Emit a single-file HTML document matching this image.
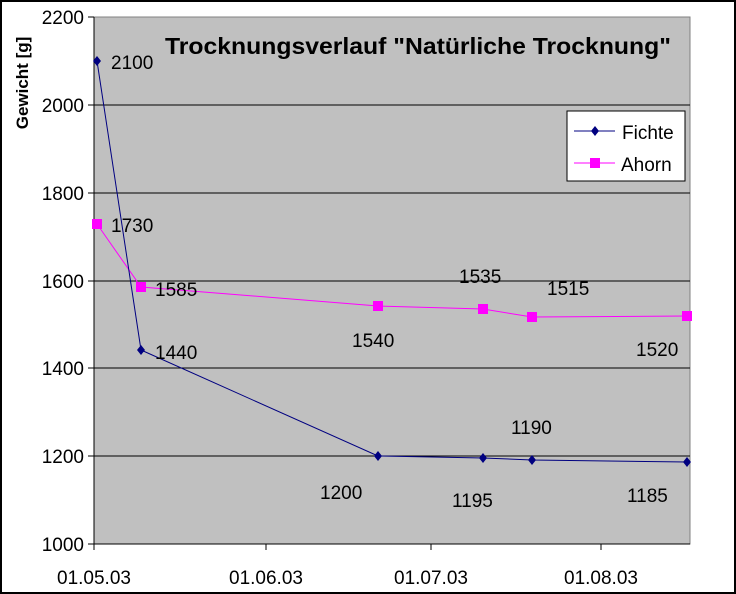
<!DOCTYPE html>
<html><head><meta charset="utf-8"><style>
body{margin:0;background:#fff}
svg{display:block;font-family:"Liberation Sans",Arial,sans-serif}
</style></head><body>
<svg width="736" height="594" viewBox="0 0 736 594">
<rect x="1" y="1" width="734" height="592" fill="#fff" stroke="#000" stroke-width="2"/>
<rect x="94" y="17" width="596" height="527" fill="#c0c0c0" stroke="#808080" stroke-width="1"/>
<g stroke="#000" stroke-width="1">
<line x1="94" y1="105" x2="690" y2="105"/>
<line x1="94" y1="193" x2="690" y2="193"/>
<line x1="94" y1="281" x2="690" y2="281"/>
<line x1="94" y1="368" x2="690" y2="368"/>
<line x1="94" y1="456" x2="690" y2="456"/>
<line x1="94" y1="17" x2="94" y2="550"/>
<line x1="94" y1="544" x2="690" y2="544"/>
<line x1="88" y1="17" x2="94" y2="17"/><line x1="88" y1="105" x2="94" y2="105"/><line x1="88" y1="193" x2="94" y2="193"/><line x1="88" y1="281" x2="94" y2="281"/><line x1="88" y1="368" x2="94" y2="368"/><line x1="88" y1="456" x2="94" y2="456"/><line x1="88" y1="544" x2="94" y2="544"/>
<line x1="266" y1="544" x2="266" y2="550"/><line x1="431" y1="544" x2="431" y2="550"/><line x1="601" y1="544" x2="601" y2="550"/>
</g>
<g font-size="19" text-anchor="end" fill="#000">
<text x="84" y="24">2200</text><text x="84" y="112">2000</text><text x="84" y="200">1800</text><text x="84" y="288">1600</text><text x="84" y="375">1400</text><text x="84" y="463">1200</text><text x="84" y="551">1000</text>
</g>
<g font-size="19" text-anchor="middle">
<text x="94" y="584">01.05.03</text><text x="266" y="584">01.06.03</text><text x="431" y="584">01.07.03</text><text x="601" y="584">01.08.03</text>
</g>
<text transform="translate(28,83) rotate(-90)" font-size="17" font-weight="bold" text-anchor="middle">Gewicht [g]</text>
<text x="418" y="54" font-size="23" font-weight="bold" text-anchor="middle" textLength="506" lengthAdjust="spacingAndGlyphs">Trocknungsverlauf "Natürliche Trocknung"</text>
<polyline points="97,224 141,287 378,306 483,309 532,317 687,316" fill="none" stroke="#ff00ff" stroke-width="1"/>
<polyline points="97,61 141,350 378,456 483,458 532,460 687,462" fill="none" stroke="#000080" stroke-width="1"/>
<g fill="#ff00ff">
<rect x="92" y="219" width="10" height="10"/><rect x="136" y="282" width="10" height="10"/><rect x="373" y="301" width="10" height="10"/><rect x="478" y="304" width="10" height="10"/><rect x="527" y="312" width="10" height="10"/><rect x="682" y="311" width="10" height="10"/>
</g>
<g fill="#000080">
<path d="M97,56l4,5l-4,5l-4,-5z"/><path d="M141,345l4,5l-4,5l-4,-5z"/><path d="M378,451l4,5l-4,5l-4,-5z"/><path d="M483,453l4,5l-4,5l-4,-5z"/><path d="M532,455l4,5l-4,5l-4,-5z"/><path d="M687,457l4,5l-4,5l-4,-5z"/>
</g>
<g font-size="19">
<text x="111" y="69">2100</text><text x="111" y="232">1730</text><text x="155" y="296">1585</text><text x="155" y="359">1440</text>
<text x="352" y="347">1540</text><text x="459" y="283">1535</text><text x="547" y="295">1515</text><text x="636" y="356">1520</text>
<text x="320" y="499">1200</text><text x="452" y="507">1195</text><text x="511" y="434">1190</text><text x="627" y="502">1185</text>
</g>
<rect x="567" y="111" width="118" height="70" fill="#fff" stroke="#000" stroke-width="1"/>
<line x1="574" y1="131" x2="615" y2="131" stroke="#000080"/><path d="M595,126l4,5l-4,5l-4,-5z" fill="#000080"/>
<line x1="574" y1="163" x2="615" y2="163" stroke="#ff00ff"/><rect x="590" y="158" width="10" height="10" fill="#ff00ff"/>
<text x="622" y="139" font-size="19">Fichte</text>
<text x="621" y="171" font-size="19">Ahorn</text>
</svg>
</body></html>
